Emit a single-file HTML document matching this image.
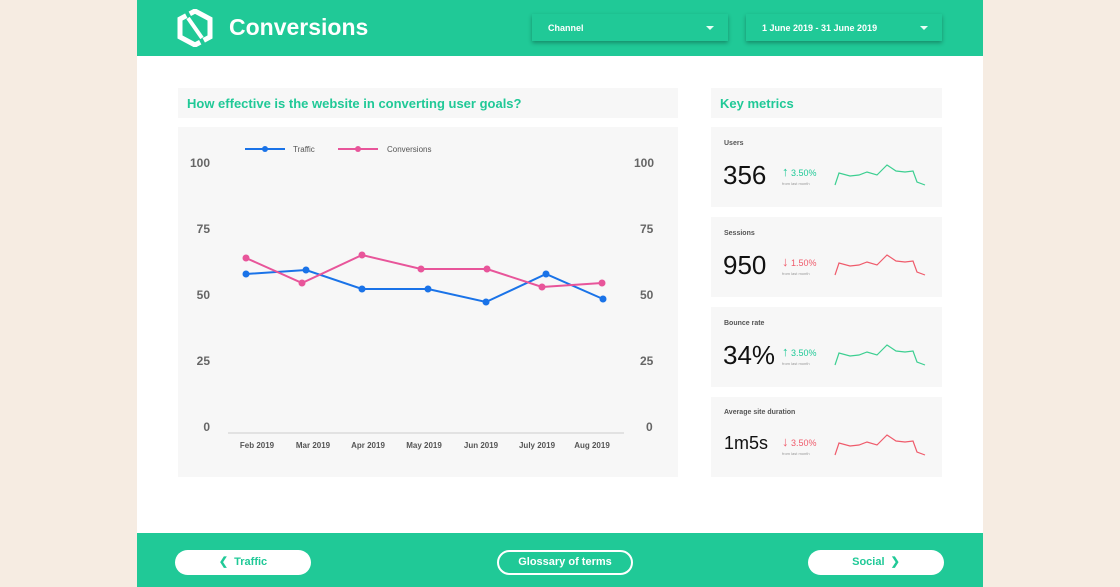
<!DOCTYPE html>
<html><head><style>
*{margin:0;padding:0;box-sizing:border-box}
body{width:1120px;height:587px;background:#f6ece2;font-family:"Liberation Sans",sans-serif;position:relative;overflow:hidden}
.page{position:absolute;left:137px;top:0;width:846px;height:587px;background:#fff}
.hdr{position:absolute;left:0;top:0;width:846px;height:56px;background:#20c997}
.ftr{position:absolute;left:0;top:533px;width:846px;height:54px;background:#20c997}
.title{position:absolute;left:92px;top:14px;color:#fff;font-size:23px;font-weight:bold}
.dd{position:absolute;top:14px;height:27px;background:#20c997;box-shadow:0 2px 4px rgba(0,0,0,.3);color:#fff;font-size:9px;font-weight:bold;padding:9px 16px}
.dd:after{content:"";position:absolute;right:14px;top:12px;border:4px solid transparent;border-top:4px solid #e8fff6}
.box{position:absolute;background:#f7f7f7}
.h{color:#20c997;font-weight:bold;font-size:13px;padding:8px 9px}
.btn{position:absolute;top:550px;height:25px;background:#fff;border-radius:13px;color:#20c997;font-weight:bold;font-size:11px;text-align:center;line-height:25px}
.lbl{position:absolute;font-size:7px;color:#555;font-weight:bold}
.big{position:absolute;color:#111}
.pct{position:absolute;font-size:9px}
.sm{position:absolute;font-size:4px;color:#999}
</style></head><body>
<div class="page">
<div class="hdr">
<svg style="position:absolute;left:40px;top:9px" width="36" height="38" viewBox="0 0 36 38"><path d="M18 2 L33 10 L33 28 L18 36 L3 28 L3 10 Z" fill="none" stroke="#fff" stroke-width="5"/><path d="M8 0 L28 38" stroke="#20c997" stroke-width="4"/><path d="M11 9 L25 29" stroke="#fff" stroke-width="4"/></svg>
<div class="title">Conversions</div>
<div class="dd" style="left:395px;width:196px">Channel</div>
<div class="dd" style="left:609px;width:196px">1 June 2019 - 31 June 2019</div>
</div>
<div class="box h" style="left:41px;top:88px;width:500px;height:30px">How effective is the website in converting user goals?</div>
<div class="box h" style="left:574px;top:88px;width:231px;height:30px">Key metrics</div>
<div class="box" style="left:41px;top:127px;width:500px;height:350px"></div>
<div class="box" style="left:574px;top:127px;width:231px;height:80px"></div>
<div class="box" style="left:574px;top:217px;width:231px;height:80px"></div>
<div class="box" style="left:574px;top:307px;width:231px;height:80px"></div>
<div class="box" style="left:574px;top:397px;width:231px;height:80px"></div>
<div class="ftr"></div>
<div class="btn" style="left:38px;width:136px">❮&nbsp; Traffic</div>
<div class="btn" style="left:360px;width:136px;border:2.5px solid #fff;background:#20c997;color:#fff;line-height:20px">Glossary of terms</div>
<div class="btn" style="left:671px;width:136px">Social &nbsp;❯</div>
</div>
<svg style="position:absolute;left:0;top:0" width="1120" height="587" font-family="Liberation Sans" font-weight="bold">
<g fill="#666" font-size="12">
<text x="210" y="167" text-anchor="end">100</text><text x="210" y="233" text-anchor="end">75</text><text x="210" y="299" text-anchor="end">50</text><text x="210" y="365" text-anchor="end">25</text><text x="210" y="431" text-anchor="end">0</text>
<text x="634" y="167">100</text><text x="640" y="233">75</text><text x="640" y="299">50</text><text x="640" y="365">25</text><text x="646" y="431">0</text>
</g>
<line x1="228" y1="433" x2="624" y2="433" stroke="#ccc"/>
<g fill="#555" font-size="8" text-anchor="middle">
<text x="257" y="448">Feb 2019</text><text x="313" y="448">Mar 2019</text><text x="368" y="448">Apr 2019</text><text x="424" y="448">May 2019</text><text x="481" y="448">Jun 2019</text><text x="537" y="448">July 2019</text><text x="592" y="448">Aug 2019</text>
</g>
<line x1="245" y1="149" x2="285" y2="149" stroke="#1a73e8" stroke-width="2"/><circle cx="265" cy="149" r="3" fill="#1a73e8"/>
<text x="293" y="152" font-size="8" fill="#555" font-weight="normal">Traffic</text>
<line x1="338" y1="149" x2="378" y2="149" stroke="#e8559a" stroke-width="2"/><circle cx="358" cy="149" r="3" fill="#e8559a"/>
<text x="387" y="152" font-size="8" fill="#555" font-weight="normal">Conversions</text>
<polyline points="246,274 306,270 362,289 428,289 486,302 546,274 603,299" fill="none" stroke="#1a73e8" stroke-width="2"/>
<g fill="#1a73e8"><circle cx="246" cy="274" r="3.5"/><circle cx="306" cy="270" r="3.5"/><circle cx="362" cy="289" r="3.5"/><circle cx="428" cy="289" r="3.5"/><circle cx="486" cy="302" r="3.5"/><circle cx="546" cy="274" r="3.5"/><circle cx="603" cy="299" r="3.5"/></g>
<polyline points="246,258 302,283 362,255 421,269 487,269 542,287 602,283" fill="none" stroke="#e8559a" stroke-width="2"/>
<g fill="#e8559a"><circle cx="246" cy="258" r="3.5"/><circle cx="302" cy="283" r="3.5"/><circle cx="362" cy="255" r="3.5"/><circle cx="421" cy="269" r="3.5"/><circle cx="487" cy="269" r="3.5"/><circle cx="542" cy="287" r="3.5"/><circle cx="602" cy="283" r="3.5"/></g>
<defs><polyline id="sp" points="0,20 4,8 15,11 24,10 32,7 42,10 52,0 61,6 70,7 78,6 82,17 90,20" fill="none" stroke-width="1.2"/></defs>
<use href="#sp" x="835" y="165" stroke="#3ccf91"/>
<use href="#sp" x="835" y="255" stroke="#ef5b6b"/>
<use href="#sp" x="835" y="345" stroke="#3ccf91"/>
<use href="#sp" x="835" y="435" stroke="#ef5b6b"/>
</svg>
<div class="lbl" style="left:724px;top:140px">Users</div>
<div class="lbl" style="left:724px;top:230px">Sessions</div>
<div class="lbl" style="left:724px;top:320px">Bounce rate</div>
<div class="lbl" style="left:724px;top:409px">Average site duration</div>
<div class="big" style="left:723px;top:160px;font-size:26px">356</div>
<div class="big" style="left:723px;top:250px;font-size:26px">950</div>
<div class="big" style="left:723px;top:340px;font-size:26px">34%</div>
<div class="big" style="left:724px;top:433px;font-size:18px">1m5s</div>
<div class="pct" style="left:782px;top:164px;color:#20c997"><span style="font-size:13px">↑</span> 3.50%</div>
<div class="pct" style="left:782px;top:254px;color:#ef5b6b"><span style="font-size:13px">↓</span> 1.50%</div>
<div class="pct" style="left:782px;top:344px;color:#20c997"><span style="font-size:13px">↑</span> 3.50%</div>
<div class="pct" style="left:782px;top:434px;color:#ef5b6b"><span style="font-size:13px">↓</span> 3.50%</div>
<div class="sm" style="left:782px;top:181px">from last month</div>
<div class="sm" style="left:782px;top:271px">from last month</div>
<div class="sm" style="left:782px;top:361px">from last month</div>
<div class="sm" style="left:782px;top:451px">from last month</div>
</body></html>
